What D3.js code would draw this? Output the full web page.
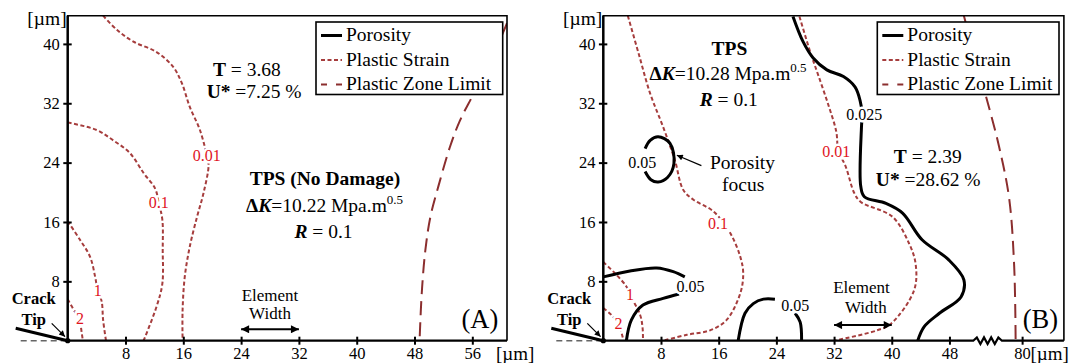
<!DOCTYPE html>
<html>
<head>
<meta charset="utf-8">
<script src="https://cdn.jsdelivr.net/npm/d3@7"></script>
<style>
  body { margin: 0; background: #fff; }
  svg { display: block; font-family: "Liberation Serif", "Times New Roman", serif; }
</style>
</head>
<body>
<div id="chart"></div>
<script>
var yTicks = [8, 16, 24, 32, 40];
var xTicksA = [8, 16, 24, 32, 40, 48, 56];
var xTicksB = [8, 16, 24, 32, 40, 48, 80];

// panel A - plastic strain contours, [x, y] in µm
var strainA_2 = [[0, 5.6], [1.0, 3.9], [1.7, 3.0], [1.85, 1.7], [2.1, 0]];
var strainA_1 = [[0, 16.1], [1.7, 13.6], [3.1, 11.3], [3.8, 8.6], [4.15, 6.8], [4.7, 5.3], [4.9, 2.8], [5.3, 0]];
var strainA_01 = [[0, 29.4], [4.0, 28.4], [6.3, 27.0], [8.6, 25.3], [10.5, 22.6], [12.1, 20.5], [12.6, 18.6],
                  [13.1, 16.3], [13.15, 12.2], [13.1, 7.7], [12.3, 4.6], [10.5, 0]];
var strainA_001 = [[4.9, 43.8], [6.8, 41.9], [9.1, 40.3], [12.3, 38.9], [14.6, 36.9], [15.8, 34.7], [16.9, 31.5],
                   [18.3, 28.4], [19.25, 25.0], [19.5, 23.7], [18.8, 19.9], [17.9, 16.7], [16.9, 12.7],
                   [16.2, 8.6], [15.9, 4.1], [15.9, 0]];
var zoneA = [[60.8, 42.8], [59.0, 38.7], [56.2, 33.3], [54.3, 29.7], [52.9, 26.1], [51.3, 20.8], [50.2, 16.7],
             [49.5, 12.2], [49.0, 6.4], [48.7, 0]];
var strainLabelsA = [
  {text: "2", x: 1.7, y: 3.0},
  {text: "1", x: 4.15, y: 6.8},
  {text: "0.1", x: 12.6, y: 18.6},
  {text: "0.01", x: 19.25, y: 25.0}
];

// panel B - plastic strain contours
var strainB_2 = [[0, 4.4], [1.15, 3.45], [2.1, 2.3], [2.55, 1.0], [2.8, 0]];
var strainB_1 = [[0, 10.6], [1.6, 9.1], [3.2, 7.3], [3.7, 6.2], [5.1, 3.5], [5.45, 1.7], [5.5, 0]];
var strainB_01 = [[3.4, 43.8], [4.9, 38.7], [6.5, 33.3], [8.3, 28.8], [9.9, 24.4], [11.1, 20.3], [12.5, 19.0],
                  [15.3, 17.4], [17.6, 14.5], [19.0, 11.3], [19.4, 9.1], [19.0, 6.4], [17.1, 2.8],
                  [14.8, 1.4], [11.6, 0.8], [8.3, 0]];
var strainB_001 = [[27.2, 43.7], [28.7, 38.9], [29.8, 35.8], [31.2, 31.8], [32.3, 28.2], [32.6, 25.6],
                   [33.6, 23.5], [34.8, 19.9], [35.7, 18.7], [40.1, 16.7], [42.4, 13.1], [43.3, 10.4],
                   [43.1, 6.8], [39.9, 2.3], [38.0, 1.4], [32.0, 0]];
var zoneB = [[50.0, 43.8], [51.4, 38.7], [60.3, 33.1], [75.3, 26.2], [78.2, 19.2], [78.9, 10.0], [79.1, 0]];
var strainLabelsB = [
  {text: "2", x: 2.1, y: 2.3},
  {text: "1", x: 3.7, y: 6.2},
  {text: "0.1", x: 15.9, y: 15.8},
  {text: "0.01", x: 32.3, y: 25.5}
];

// panel B - porosity contours
var poreLoopB = [[5.8, 22.8], [6.6, 21.7], [7.6, 21.4], [8.9, 22.0], [9.8, 23.9], [9.25, 26.6], [7.6, 27.5],
                 [6.5, 27.0], [5.8, 25.9]];
var poreUpperB = [[0, 8.6], [3.7, 9.4], [7.4, 9.8], [9.7, 9.3], [11.3, 8.6]];
var poreLowerB = [[3.2, 0], [3.9, 2.8], [5.5, 4.8], [8.3, 5.7], [10.5, 6.3]];
var poreArchLeftB = [[18.7, 0], [19.65, 3.7], [20.8, 5.0], [22.2, 5.6], [23.8, 5.6]];
var poreArchRightB = [[26.6, 3.7], [27.3, 2.5], [27.5, 0]];
var pore025B = [[26.3, 43.7], [27.7, 40.3], [29.1, 38.1], [31.0, 36.5], [33.3, 35.6], [34.9, 34.2], [35.6, 32.4],
                [35.9, 30.5], [35.8, 28.8], [35.7, 20.8], [36.2, 19.4], [39.2, 18.5], [41.5, 17.2],
                [44.2, 13.6], [47.9, 10.9], [50.0, 8.2], [49.6, 5.9], [46.6, 3.7], [44.5, 1.9], [43.6, 0]];
var poreLabelsB = [
  {text: "0.05", x: 5.4, y: 24.0},
  {text: "0.05", x: 12.1, y: 7.3},
  {text: "0.05", x: 26.6, y: 4.8},
  {text: "0.025", x: 36.2, y: 30.5}
];

var strainColor = "#a63d3d",
    zoneColor = "#8b2e2e",
    labelRed = "#e0141e";

var svg = d3.select("#chart")
            .append("svg")
            .attr("width", 1069)
            .attr("height", 363);

var defs = svg.append("defs");
defs.append("marker")
    .attr("id", "head")
    .attr("viewBox", "0 0 10 10")
    .attr("refX", 10).attr("refY", 5)
    .attr("markerUnits", "userSpaceOnUse")
    .attr("markerWidth", 10).attr("markerHeight", 8)
    .attr("orient", "auto-start-reverse")
    .append("path").attr("d", "M0,0L10,5L0,10z").attr("fill", "#000");
defs.append("marker")
    .attr("id", "headSmall")
    .attr("viewBox", "0 0 10 10")
    .attr("refX", 10).attr("refY", 5)
    .attr("markerUnits", "userSpaceOnUse")
    .attr("markerWidth", 8).attr("markerHeight", 6)
    .attr("orient", "auto")
    .append("path").attr("d", "M0,0L10,5L0,10z").attr("fill", "#000");

function richText(g, px, py, parts, size, anchor) {
  var t = g.append("text")
           .attr("x", px).attr("y", py)
           .attr("text-anchor", anchor || "middle")
           .style("font-size", size + "px");
  parts.forEach(function(p) {
    var s = t.append("tspan").text(p.t);
    if (p.b) s.attr("font-weight", "bold");
    if (p.i) s.attr("font-style", "italic");
    if (p.sup) s.attr("dy", -8).style("font-size", "13px");
  });
  return t;
}

function drawPanel(p) {
  var x = p.x, y = p.y;
  var xr = x.range(), yr = y.range();
  var left = xr[0], right = xr[xr.length - 1], bottom = yr[0], top = yr[1];
  var g = svg.append("g");

  g.append("clipPath").attr("id", "clip" + p.name)
   .append("rect").attr("x", left).attr("y", top).attr("width", right - left).attr("height", bottom - top);
  var plot = g.append("g").attr("clip-path", "url(#clip" + p.name + ")");

  var line = d3.line()
               .curve(d3.curveCatmullRom.alpha(0.5))
               .x(function(d) { return x(d[0]); })
               .y(function(d) { return y(d[1]); });

  plot.append("path")
      .attr("d", line(p.zone))
      .attr("fill", "none")
      .attr("stroke", zoneColor)
      .attr("stroke-width", 2)
      .attr("stroke-dasharray", "14,7");

  plot.selectAll(".strain")
      .data(p.strain)
      .enter().append("path")
      .attr("class", "strain")
      .attr("d", line)
      .attr("fill", "none")
      .attr("stroke", strainColor)
      .attr("stroke-width", 2)
      .attr("stroke-dasharray", "4,2.5");

  plot.selectAll(".pore")
      .data(p.pores)
      .enter().append("path")
      .attr("class", "pore")
      .attr("d", line)
      .attr("fill", "none")
      .attr("stroke", "#000")
      .attr("stroke-width", 3);

  // contour labels with white halo to cut the lines
  function labels(list, color) {
    g.selectAll(null)
     .data(list)
     .enter().append("text")
     .attr("x", function(d) { return x(d.x); })
     .attr("y", function(d) { return y(d.y); })
     .attr("dy", "0.35em")
     .attr("text-anchor", "middle")
     .attr("fill", color)
     .attr("stroke", "#fff")
     .attr("stroke-width", 5)
     .attr("paint-order", "stroke")
     .style("font-size", "16px")
     .text(function(d) { return d.text; });
  }
  labels(p.strainLabels, labelRed);
  labels(p.poreLabels, "#000");

  // frame: left, top, right
  g.append("path")
   .attr("d", "M" + left + "," + bottom + "V" + top + "H" + right + "V" + bottom)
   .attr("fill", "none").attr("stroke", "#000").attr("stroke-width", 1.6);
  g.append("line")
   .attr("x1", left).attr("x2", left).attr("y1", top).attr("y2", bottom)
   .attr("stroke", "#000").attr("stroke-width", 2.4);

  // bottom axis line, with a zigzag break if needed
  var bx = "M" + left + "," + bottom;
  if (p.axisBreak) {
    var b0 = x(p.axisBreak[0]), b1 = x(p.axisBreak[1]), n = 8;
    bx += "H" + b0;
    for (var i = 1; i < n; i++) {
      bx += "L" + (b0 + (b1 - b0) * i / n) + "," + (bottom + (i % 2 ? -3.3 : 3.3));
    }
    bx += "L" + b1 + "," + bottom;
  }
  bx += "H" + right;
  g.append("path").attr("d", bx).attr("fill", "none").attr("stroke", "#000").attr("stroke-width", 2.2);

  var yAxis = g.append("g")
               .attr("transform", "translate(" + left + ",0)")
               .call(d3.axisLeft(y).tickValues(yTicks).tickSize(4.4).tickSizeOuter(0).tickPadding(3.5));
  var xAxis = g.append("g")
               .attr("transform", "translate(0," + bottom + ")")
               .call(d3.axisBottom(x).tickValues(p.xTicks).tickSize(4).tickSizeOuter(0).tickPadding(2.8));
  [yAxis, xAxis].forEach(function(a) {
    a.attr("font-family", null).attr("font-size", null);
    a.select(".domain").remove();
    a.selectAll(".tick line").attr("stroke-width", 2);
    a.selectAll(".tick text").style("font-size", "16.5px").attr("fill", "#000");
  });
  yAxis.selectAll(".tick line").attr("x1", 4);
  xAxis.selectAll(".tick line").attr("y1", -4);

  g.append("text").attr("x", left - 1).attr("y", top + 9.5).attr("text-anchor", "end")
   .style("font-size", "19.5px").text("[µm]");
  g.append("text").attr("x", p.xUnitX).attr("y", bottom + 18.8).attr("text-anchor", "start")
   .style("font-size", "19px").text("[µm]");

  // crack tip
  g.append("line")
   .attr("x1", left - 47).attr("x2", left).attr("y1", bottom).attr("y2", bottom)
   .attr("stroke", "#666").attr("stroke-width", 1.5).attr("stroke-dasharray", "6,4");
  g.append("line")
   .attr("x1", left - 52).attr("y1", bottom - 12.4).attr("x2", left).attr("y2", bottom)
   .attr("stroke", "#000").attr("stroke-width", 3);
  g.append("circle").attr("cx", left).attr("cy", bottom).attr("r", 2.6).attr("fill", "#000");
  g.append("line")
   .attr("x1", left - 16).attr("y1", bottom - 17.4).attr("x2", left - 2.7).attr("y2", bottom - 4)
   .attr("stroke", "#000").attr("stroke-width", 1.2).attr("marker-end", "url(#headSmall)");
  g.append("text").attr("x", left - 34).attr("y", bottom - 36.4).attr("text-anchor", "middle")
   .attr("font-weight", "bold").style("font-size", "16.5px").text("Crack");
  g.append("text").attr("x", left - 34).attr("y", bottom - 15.7).attr("text-anchor", "middle")
   .attr("font-weight", "bold").style("font-size", "16.5px").text("Tip");

  // element width
  var ew = p.element;
  g.append("text").attr("x", x(ew.tx[0])).attr("y", y(ew.ty[0])).attr("text-anchor", "middle")
   .style("font-size", "17px").text("Element");
  g.append("text").attr("x", x(ew.tx[1])).attr("y", y(ew.ty[1])).attr("text-anchor", "middle")
   .style("font-size", "17px").text("Width");
  g.append("line")
   .attr("x1", x(ew.from)).attr("x2", x(ew.to)).attr("y1", y(ew.y)).attr("y2", y(ew.y))
   .attr("stroke", "#000").attr("stroke-width", 2)
   .attr("marker-start", "url(#head)").attr("marker-end", "url(#head)");

  p.notes.forEach(function(n) {
    richText(g, x(n.x), y(n.y), n.parts, n.size || 19.5, n.anchor);
  });
  (p.arrows || []).forEach(function(a) {
    g.append("line")
     .attr("x1", x(a[0][0])).attr("y1", y(a[0][1])).attr("x2", x(a[1][0])).attr("y2", y(a[1][1]))
     .attr("stroke", "#000").attr("stroke-width", 1.2).attr("marker-end", "url(#headSmall)");
  });

  // legend
  var lg = g.append("g").attr("transform", "translate(" + p.legendX + "," + (top + 6.3) + ")");
  lg.append("rect").attr("width", p.legendW).attr("height", 72.5)
    .attr("fill", "#fff").attr("stroke", "#000").attr("stroke-width", 1.6);
  var items = [
    {name: "Porosity", color: "#000", width: 3, dash: null},
    {name: "Plastic Strain", color: strainColor, width: 2, dash: "4,2.5"},
    {name: "Plastic Zone Limit", color: zoneColor, width: 2, dash: "6,9"}
  ];
  items.forEach(function(it, i) {
    var cy = 13.5 + i * 24.5;
    lg.append("line").attr("x1", 5).attr("x2", 26).attr("y1", cy).attr("y2", cy)
      .attr("stroke", it.color).attr("stroke-width", it.width).attr("stroke-dasharray", it.dash);
    lg.append("text").attr("x", 30).attr("y", cy + 5.5).style("font-size", "19.5px").text(it.name);
  });
}

var dk = function(v) {
  return [{t: "Δ", b: 1}, {t: "K", b: 1, i: 1}, {t: "=" + v + " Mpa.m"}, {t: "0.5", sup: 1}];
};
var rr = [{t: "R", b: 1, i: 1}, {t: " = 0.1"}];

drawPanel({
  name: "A",
  x: d3.scaleLinear().domain([0, 60.8]).range([67.7, 507]),
  y: d3.scaleLinear().domain([0, 43.8]).range([340.7, 15.7]),
  xTicks: xTicksA,
  strain: [strainA_2, strainA_1, strainA_01, strainA_001],
  strainLabels: strainLabelsA,
  zone: zoneA,
  pores: [],
  poreLabels: [],
  xUnitX: 496,
  legendX: 316, legendW: 186.7,
  element: {from: 24, to: 32, y: 1.54, tx: [28, 28], ty: [5.4, 2.9]},
  notes: [
    {x: 24.8, y: 35.7, parts: [{t: "T", b: 1}, {t: " = 3.68"}]},
    {x: 25.8, y: 32.7, parts: [{t: "U*", b: 1}, {t: " =7.25 %"}]},
    {x: 35.6, y: 21.0, parts: [{t: "TPS (No Damage)", b: 1}]},
    {x: 35.55, y: 17.4, parts: dk("10.22")},
    {x: 35.4, y: 13.8, parts: rr},
    {x: 59.6, y: 1.67, parts: [{t: "(A)"}], size: 26.5, anchor: "end"}
  ]
});

drawPanel({
  name: "B",
  x: d3.scaleLinear().domain([0, 52, 77, 85.8]).range([603.3, 978.3, 1000.5, 1063.9]),
  y: d3.scaleLinear().domain([0, 43.8]).range([340.7, 15.7]),
  xTicks: xTicksB,
  axisBreak: [51.3, 77.2],
  strain: [strainB_2, strainB_1, strainB_01, strainB_001],
  strainLabels: strainLabelsB,
  zone: zoneB,
  pores: [poreLoopB, poreUpperB, poreLowerB, poreArchLeftB, poreArchRightB, pore025B],
  poreLabels: poreLabelsB,
  xUnitX: 1030.5,
  legendX: 877.3, legendW: 181.7,
  element: {from: 32, to: 40, y: 2.1, tx: [35.8, 36.4], ty: [6.4, 3.7]},
  notes: [
    {x: 17.5, y: 38.5, parts: [{t: "TPS", b: 1}]},
    {x: 17.3, y: 35.1, parts: dk("10.28")},
    {x: 17.4, y: 31.6, parts: rr},
    {x: 45.0, y: 23.9, parts: [{t: "T", b: 1}, {t: " = 2.39"}]},
    {x: 45.05, y: 20.85, parts: [{t: "U*", b: 1}, {t: " =28.62 %"}]},
    {x: 19.3, y: 23.1, parts: [{t: "Porosity"}]},
    {x: 19.4, y: 20.2, parts: [{t: "focus"}]},
    {x: 85.0, y: 1.7, parts: [{t: "(B)"}], size: 26.5, anchor: "end"}
  ],
  arrows: [[[13.6, 23.6], [10.2, 25.0]]]
});
</script>
</body>
</html>
